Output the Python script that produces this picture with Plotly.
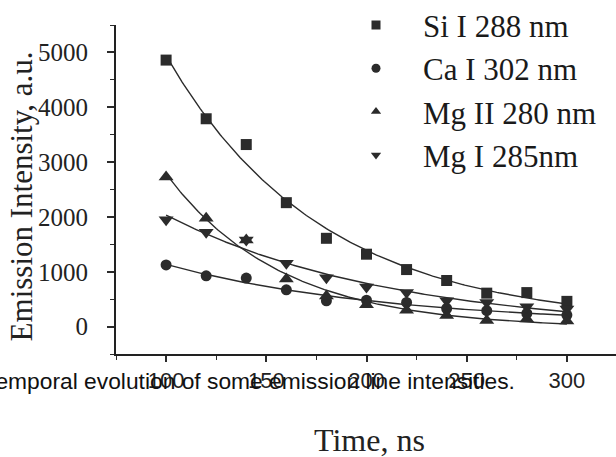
import numpy as np
import plotly.graph_objects as go

# Delay time after the laser pulse, ns
time_ns = [100, 120, 140, 160, 180, 200, 220, 240, 260, 280, 300]

# Line emission intensities, a.u.
si_288 = [4860, 3790, 3320, 2260, 1610, 1320, 1040, 840, 610, 620, 460]
ca_302 = [1125, 925, 885, 670, 470, 480, 440, 330, 290, 240, 210]
mg2_280 = [2730, 1975, 1580, 870, 560, 400, 300, 200, 110, 140, 100]
mg1_285 = [1950, 1720, 1580, 1155, 890, 720, 620, 470, 440, 360, 320]

series_names = ["Si I 288 nm", "Ca I 302 nm", "Mg II 280 nm", "Mg I 285nm"]
series_values = [si_288, ca_302, mg2_280, mg1_285]
symbols = ["square", "circle", "triangle-up", "triangle-down"]
sizes = [11, 11, 13, 13]

x_ticks = [100, 150, 200, 250, 300]
y_ticks = [0, 1000, 2000, 3000, 4000, 5000]

INK = "#2b2b2b"
SERIF = "Liberation Serif"
SANS = "Liberation Sans"


def exp_decay_fit(x, y):
    """Least-squares fit of y = y0 + A*exp(-(x - x0)/tau)."""
    x = np.asarray(x, float)
    y = np.asarray(y, float)
    best = None
    for tau in np.linspace(10, 600, 1181):
        e = np.exp(-(x - x[0]) / tau)
        m = np.column_stack([e, np.ones_like(e)])
        coef, *_ = np.linalg.lstsq(m, y, rcond=None)
        r = float(np.sum((m @ coef - y) ** 2))
        if best is None or r < best[0]:
            best = (r, tau, coef)
    _, tau, (a, y0) = best
    xs = np.linspace(x[0], x[-1], 201)
    return xs, y0 + a * np.exp(-(xs - x[0]) / tau)


fig = go.Figure()

for name, vals, sym, sz in zip(series_names, series_values, symbols, sizes):
    fx, fy = exp_decay_fit(time_ns, vals)
    fig.add_trace(go.Scatter(x=fx, y=fy, mode="lines",
                             line=dict(color=INK, width=1.4),
                             showlegend=False, hoverinfo="skip"))
    fig.add_trace(go.Scatter(x=time_ns, y=vals, mode="markers", name=name,
                             marker=dict(symbol=sym, size=sz, color=INK),
                             showlegend=False))

# Legend entries with smaller key symbols
for i, (name, sym) in enumerate(zip(series_names, symbols)):
    fig.add_trace(go.Scatter(x=[None], y=[None], mode="markers", name=name,
                             legendgroup=f"g{i}",
                             marker=dict(symbol=sym, size=9, color=INK)))

fig.add_annotation(text="Emission Intensity, a.u.", xref="paper", yref="paper",
                   x=-0.19, y=0.479, textangle=-90, showarrow=False,
                   xanchor="center", yanchor="middle",
                   font=dict(family=SERIF, size=31, color="#222"))
fig.add_annotation(text="Time, ns", xref="paper", yref="paper",
                   x=0.506, y=-0.261, showarrow=False,
                   xanchor="center", yanchor="middle",
                   font=dict(family=SERIF, size=32, color="#222"))
fig.add_annotation(text="Temporal evolution of some emission line intensities.",
                   xref="paper", yref="paper", x=0.802, y=-0.082,
                   showarrow=False, xanchor="right", yanchor="middle",
                   font=dict(family=SANS, size=22.8, color="#111"))

fig.update_layout(
    width=616, height=457,
    margin=dict(l=116, r=0, t=25, b=103, autoexpand=False),
    paper_bgcolor="white", plot_bgcolor="white",
    showlegend=True,
    legend=dict(x=0.426, y=1.081, xanchor="left", yanchor="top",
                font=dict(family=SERIF, size=31, color="#1a1a1a"),
                bgcolor="rgba(0,0,0,0)", itemwidth=84,
                tracegroupgap=9, traceorder="normal"),
    xaxis=dict(range=[75, 324.5], tickvals=x_ticks,
               ticks="outside", ticklen=6, tickwidth=1.5, tickcolor=INK,
               minor=dict(dtick=25, tick0=0, ticks="outside", ticklen=4,
                          tickwidth=1.2, tickcolor=INK),
               showline=True, linecolor="#222", linewidth=1.8,
               showgrid=False, zeroline=False,
               tickfont=dict(family=SANS, size=22, color="#222")),
    yaxis=dict(range=[-500, 5500], tickvals=y_ticks,
               ticks="outside", ticklen=7, tickwidth=1.5, tickcolor=INK,
               minor=dict(dtick=500, tick0=0, ticks="outside", ticklen=4,
                          tickwidth=1.2, tickcolor=INK),
               showline=True, linecolor="#222", linewidth=1.8,
               showgrid=False, zeroline=False, ticklabelstandoff=14,
               tickfont=dict(family=SERIF, size=25, color="#222")),
)

fig.write_html("out.html")
